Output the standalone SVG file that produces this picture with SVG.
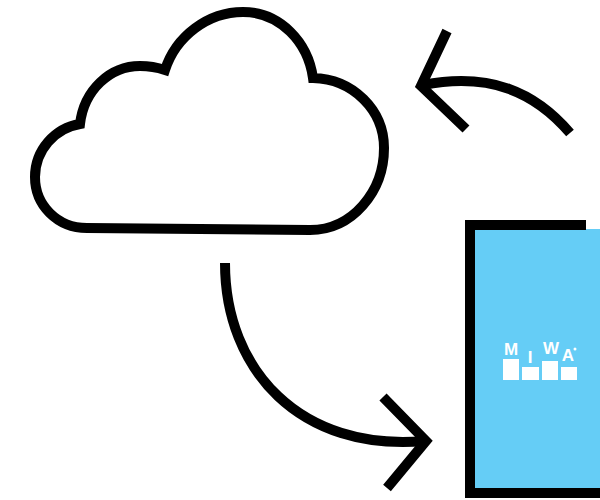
<svg xmlns="http://www.w3.org/2000/svg" width="600" height="500" viewBox="0 0 600 500">
<style>
.l{fill:none;stroke:#000;stroke-width:10;stroke-miterlimit:10}
.t{font-family:"Liberation Sans",Arial,sans-serif;font-weight:700;font-size:17px;fill:#fff;text-anchor:middle}
.b{fill:#fff}
</style>
<rect width="600" height="500" fill="#fff"/>
<g id="cloud"><path class="l" d="M87 228C57 228 35 205 35 177C35 150 55 128 80 124C84 90 110 66 140 66C148 66 156 67 165 70C176 36 208 12 243 12C280 12 308 42 313 78C353 79 384 110 384 148C384 192 352 230 310 230Z"/></g>
<g id="connectors">
<path class="l" d="M225 263C225 370 300 452 425 441"/>
<path class="l" d="M383 397L426 441L387 488"/>
<path class="l" d="M570 133C535 92 490 72 423 85"/>
<path class="l" d="M447 31L421 86L466 129"/>
</g>
<g id="device">
<rect x="475" y="229" width="125" height="260" fill="#65cdf6"/>
<path d="M465 220H586V230H475V488H600V498H465Z" fill="#000"/>
<g id="logo">
<rect class="b" x="503" y="359" width="16" height="21"/>
<rect class="b" x="522" y="367" width="17" height="13"/>
<rect class="b" x="542" y="361" width="16" height="19"/>
<rect class="b" x="561" y="367" width="16" height="13"/>
<text class="t" x="511" y="355">M</text>
<text class="t" x="530" y="363">I</text>
<text class="t" x="551" y="354">W</text>
<text class="t" x="568" y="361">A</text>
<circle class="b" cx="575" cy="349" r="1.5"/>
</g>
</g>
</svg>
